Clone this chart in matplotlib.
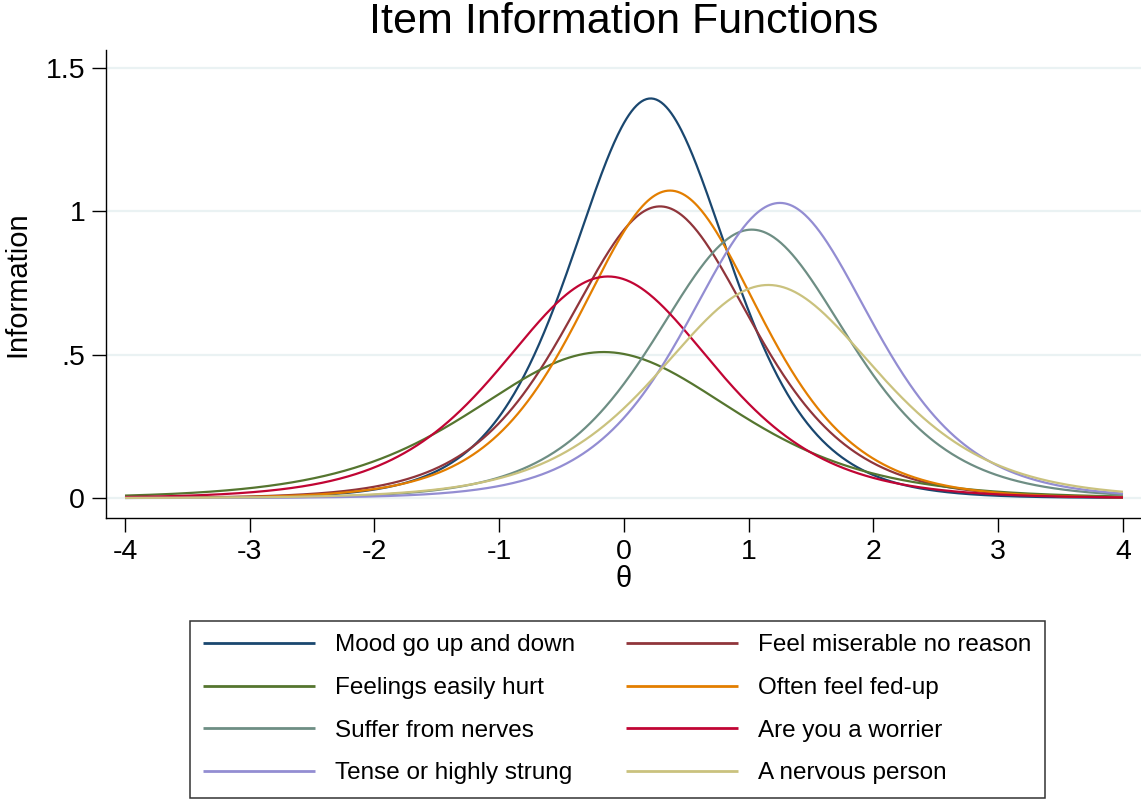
import numpy as np
import matplotlib
matplotlib.use("Agg")
import matplotlib.pyplot as plt

plt.rcParams['font.family'] = ['Liberation Sans', 'DejaVu Sans']

# Item labels (legend order, row by row)
items = [
    "Mood go up and down",
    "Feel miserable no reason",
    "Feelings easily hurt",
    "Often feel fed-up",
    "Suffer from nerves",
    "Are you a worrier",
    "Tense or highly strung",
    "A nervous person",
]

# 2PL item parameters: discrimination (a) and difficulty (b)
discrimination = [2.361, 2.017, 1.427, 2.071, 1.935, 1.758, 2.029, 1.724]
difficulty = [0.214, 0.289, -0.163, 0.369, 1.024, -0.128, 1.250, 1.157]

colors = ["#1a476f", "#90353b", "#55752f", "#e37e00",
          "#6e8e84", "#c10534", "#938dd2", "#cac27e"]

x_ticks = [-4, -3, -2, -1, 0, 1, 2, 3, 4]
y_ticks = [0, 0.5, 1.0, 1.5]
y_ticklabels = ["0", ".5", "1", "1.5"]

theta = np.linspace(-4, 4, 801)


def item_information(t, a, b):
    p = 1.0 / (1.0 + np.exp(-a * (t - b)))
    return a ** 2 * p * (1.0 - p)


fig = plt.figure(figsize=(11.41, 8.0), dpi=100)
ax = fig.add_axes([106 / 1141, 282 / 800, 1035 / 1141, 468 / 800])

for ys in y_ticks:
    ax.axhline(ys, color="#eaf2f3", lw=1.6, zorder=0)

handles = []
for name, a, b, c in zip(items, discrimination, difficulty, colors):
    h, = ax.plot(theta, item_information(theta, a, b), color=c, lw=1.6,
                 label=name, solid_capstyle="butt")
    handles.append(h)

ax.set_xlim(-4 - 19 / 124.75, 4 + 18 / 124.75)
ax.set_ylim(-20 / 286.7, 448 / 286.7)
ax.set_xticks(x_ticks)
ax.set_xticklabels([str(v) for v in x_ticks])
ax.set_yticks(y_ticks)
ax.set_yticklabels(y_ticklabels)

for side in ("top", "right"):
    ax.spines[side].set_visible(False)
for side in ("left", "bottom"):
    ax.spines[side].set_linewidth(1.0)
    ax.spines[side].set_color("black")

ax.tick_params(axis="both", length=10, width=1.0, labelsize=20.5, pad=5,
               colors="black")

ax.set_xlabel("θ", fontsize=21, labelpad=0)
ax.set_ylabel("Information", fontsize=21, labelpad=10)

fig.text(624 / 1141, 1 - 22 / 800, "Item Information Functions",
         fontsize=31, ha="center", va="center")

# matplotlib fills legend columns first; reorder so entries read row by row
order = [0, 2, 4, 6, 1, 3, 5, 7]
leg = fig.legend(handles=[handles[i] for i in order],
                 labels=[items[i] for i in order], ncol=2,
                 loc="upper left", bbox_to_anchor=(190 / 1141, 1 - 621 / 800),
                 fontsize=17.5, frameon=True, fancybox=False, shadow=False,
                 handlelength=4.6, handletextpad=0.82, columnspacing=2.1,
                 labelspacing=0.85, borderpad=0.55, borderaxespad=0)
leg.get_frame().set_edgecolor("black")
leg.get_frame().set_linewidth(1.1)
for line in leg.get_lines():
    line.set_linewidth(2.0)

fig.savefig("out.png", dpi=100, facecolor="white")
